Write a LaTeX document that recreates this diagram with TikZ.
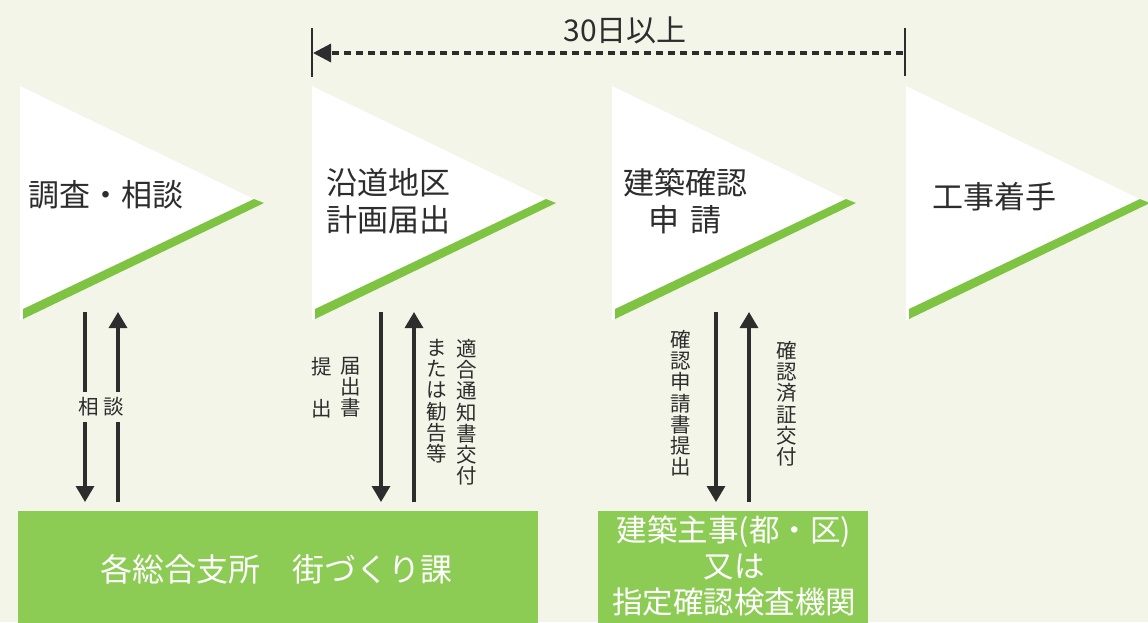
\documentclass[tikz,border=0pt]{standalone}
\usepackage{fontspec}
\setmainfont{Noto Sans CJK JP}
\usetikzlibrary{arrows.meta}
\definecolor{bgc}{RGB}{243,245,232}
\definecolor{boxg}{RGB}{140,204,84}
\definecolor{stripeg}{RGB}{126,196,66}
\definecolor{ink}{RGB}{45,45,45}
\tikzset{
  tri/.style={fill=white},
  stripe/.style={fill=stripeg},
  ttext/.style={text=ink, align=center, inner sep=0pt, font=\fontsize{31}{37}\selectfont},
  vtext/.style={text=ink, align=center, inner sep=0pt, font=\fontsize{20.5}{21.2}\selectfont, anchor=north},
  arr/.style={draw=ink, line width=3.2pt, -{Triangle[length=16pt,width=18pt]}},
  gbox/.style={fill=boxg, inner sep=0pt, anchor=north west},
  btext/.style={text=white, align=center, inner sep=0pt, font=\fontsize{30.5}{36}\selectfont},
  bar/.style={draw=ink, line width=1.6pt}
}
\begin{document}
\begin{tikzpicture}[x=1pt,y=-1pt]
\fill[bgc] (0,0) rectangle (1148,622);
\useasboundingbox (0,0) rectangle (1148,622);
% triangles
\foreach \L in {20,312,612,906}{
  \fill[tri] (\L,86) -- (\L+242,203) -- (\L,320) -- cycle;
  \fill[stripe] (\L+3,309) -- (\L+234,199) -- (\L+244,203) -- (\L+3,319) -- cycle;
}
\node[ttext] (t1) at (106,195) {調査・相談};
\node[ttext] (t2) at (388,201) {沿道地区\\計画届出};
\node[ttext] (t3) at (685,201) {建築確認\\申\hspace{0.35em}請};
\node[ttext] (t4) at (994,197) {工事着手};
% 30 days
\coordinate (lbt) at (312,28);
\coordinate (lbb) at (312,77);
\coordinate (rbt) at (905,28);
\coordinate (rbb) at (905,76);
\draw[bar] (lbt) -- (lbb);
\draw[bar] (rbt) -- (rbb);
\coordinate (dstart) at (903,53);
\coordinate (dend) at (313,53);
\draw[draw=ink, line width=3.2pt, dash pattern=on 7pt off 5pt, -{Triangle[length=18pt,width=18pt]}] (dstart) -- (dend);
\node[text=ink, inner sep=0pt, font=\fontsize{30}{30}\selectfont] (days) at (625,30) {30日以上};
% boxes
\node[gbox, minimum width=520pt, minimum height=112pt] (box1) at (18,511) {};
\node[gbox, minimum width=270pt, minimum height=112pt] (box2) at (598,511) {};
\node[btext, font=\fontsize{32}{36}\selectfont] (b1t) at (276,569) {各総合支所　街づくり課};
\node[btext] (b2t) at (734,566) {建築主事(都・区)\\又は\\指定確認検査機関};
% arrows column 1
\coordinate (a1t) at (85,312);
\coordinate (a1b) at (85,502);
\coordinate (b1t) at (118,312);
\coordinate (b1b) at (118,502);
\draw[arr] (a1t) -- (a1b);
\draw[arr] (b1b) -- (b1t);
\node[text=ink, fill=bgc, inner xsep=1pt, inner ysep=6pt, font=\fontsize{20.5}{20}\selectfont] (lab1) at (101,407) {相\hspace{5pt}談};
% arrows column 2
\coordinate (a2t) at (381,312);
\coordinate (a2b) at (381,502);
\coordinate (b2t) at (414,312);
\coordinate (b2b) at (414,502);
\draw[arr] (a2t) -- (a2b);
\draw[arr] (b2b) -- (b2t);
\node[vtext] (l2a) at (322,357) {提\\　\\出};
\node[vtext] (l2b) at (351,357) {届\\出\\書};
\node[vtext] (l2c) at (437,339) {ま\\た\\は\\勧\\告\\等};
\node[vtext] (l2d) at (467,339) {適\\合\\通\\知\\書\\交\\付};
% arrows column 3
\coordinate (a3t) at (716,312);
\coordinate (a3b) at (716,502);
\coordinate (b3t) at (749,312);
\coordinate (b3b) at (749,502);
\draw[arr] (a3t) -- (a3b);
\draw[arr] (b3b) -- (b3t);
\node[vtext] (l3a) at (681,330) {確\\認\\申\\請\\書\\提\\出};
\node[vtext] (l3b) at (787,341) {確\\認\\済\\証\\交\\付};
\end{tikzpicture}
\end{document}
